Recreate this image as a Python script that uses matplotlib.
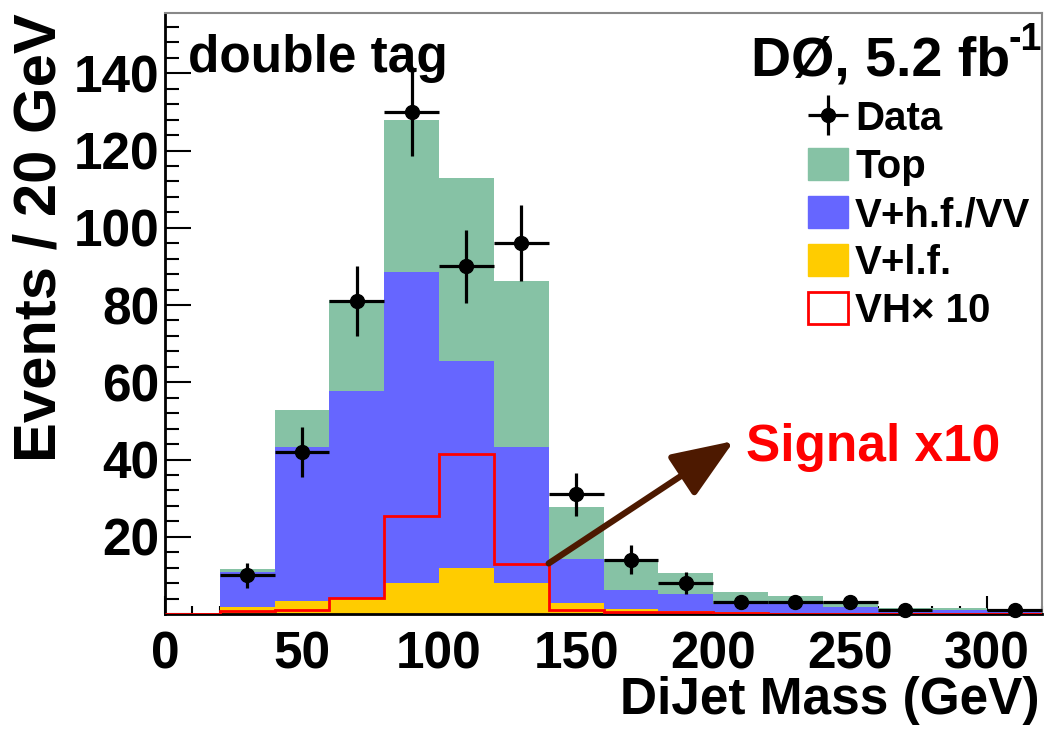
import numpy as np
import matplotlib
matplotlib.use("Agg")
import matplotlib.pyplot as plt
from matplotlib.patches import Patch, FancyArrowPatch
from matplotlib.ticker import MultipleLocator, FixedLocator, FuncFormatter

plt.rcParams["font.family"] = ["Liberation Sans", "DejaVu Sans"]
plt.rcParams["font.weight"] = "bold"
plt.rcParams["mathtext.default"] = "regular"

# 20 GeV bins from 0 to 320 GeV
bin_edges = np.arange(0, 321, 20)

# background components (events per bin)
vlf = [0, 1.8, 3.3, 4.1, 8.0, 11.8, 8.0, 2.8, 1.2, 0.8, 0.4, 0.3, 0.2, 0.1, 0.1, 0.1]
vhf_vv = [0, 9.0, 39.9, 53.7, 80.5, 53.7, 35.2, 11.5, 5.0, 4.4, 2.3, 2.2, 1.7, 0.8, 1.0, 0.5]
top = [0, 0.9, 9.7, 23.5, 39.3, 47.3, 43.0, 13.3, 8.0, 5.3, 3.1, 2.1, 1.2, 0.7, 0.4, 0.3]

# VH signal scaled by 10
signal_x10 = [0, 0.9, 1.0, 4.2, 25.5, 41.3, 13.0, 1.0, 0.6, 0.4, 0.2, 0.1, 0.1, 0.05, 0.05, 0.05]

# observed events (None = empty bin)
data = [None, 10, 42, 81, 130, 90, 96, 31, 14, 8, 3, 3, 3, 1, None, 1]

c_top = "#86c2a5"
c_vhf = "#6666ff"
c_vlf = "#ffcc00"

fig = plt.figure(figsize=(10.45, 7.29), dpi=100)
ax = fig.add_axes([165 / 1045, 1 - 614 / 729, (1042 - 165) / 1045, (614 - 13) / 729])

lvl1 = np.array(vlf)
lvl2 = lvl1 + np.array(vhf_vv)
lvl3 = lvl2 + np.array(top)

ax.stairs(lvl1, bin_edges, baseline=0, fill=True, color=c_vlf, lw=0, zorder=2)
ax.stairs(lvl2, bin_edges, baseline=lvl1, fill=True, color=c_vhf, lw=0, zorder=2)
ax.stairs(lvl3, bin_edges, baseline=lvl2, fill=True, color=c_top, lw=0, zorder=2)
ax.stairs(signal_x10, bin_edges, baseline=0, color="#ff0000", lw=2.0, zorder=3)

centers = 0.5 * (bin_edges[:-1] + bin_edges[1:])
xs = [c for c, d in zip(centers, data) if d is not None]
ys = [d for d in data if d is not None]
yerr = np.sqrt(ys)
eb = ax.errorbar(xs, ys, xerr=10, yerr=yerr, fmt="o", color="black",
                 ms=10, elinewidth=2.3, capsize=0, zorder=5, clip_on=False)

ax.set_xlim(0, 320)
ax.set_ylim(0, 155.6)

# axis styling
for side in ("left", "bottom"):
    ax.spines[side].set_linewidth(2.0)
    ax.spines[side].set_color("black")
for side in ("top", "right"):
    ax.spines[side].set_linewidth(1.5)
    ax.spines[side].set_color("#888888")

ax.xaxis.set_major_locator(MultipleLocator(50))
ax.xaxis.set_minor_locator(MultipleLocator(10))
ax.yaxis.set_major_locator(FixedLocator(np.arange(0, 141, 20)))
ax.yaxis.set_minor_locator(MultipleLocator(4))
ax.yaxis.set_major_formatter(FuncFormatter(lambda v, p: "" if v == 0 else f"{v:.0f}"))

ax.tick_params(axis="both", which="both", direction="in", top=False, right=False,
               color="black", width=1.5)
ax.tick_params(axis="x", which="major", length=13, labelsize=37, pad=12)
ax.tick_params(axis="x", which="minor", length=6)
ax.tick_params(axis="y", which="major", length=19, labelsize=37, pad=4)
ax.tick_params(axis="y", which="minor", length=10)
for lab in ax.get_xticklabels() + ax.get_yticklabels():
    lab.set_fontweight("bold")

fig.text(40 / 1045, 1 - 13 / 729, "Events / 20 GeV", rotation=90, ha="center",
         va="top", fontsize=43, fontweight="bold")
fig.text(1040 / 1045, 1 - 714 / 729, "DiJet Mass (GeV)", ha="right",
         va="baseline", fontsize=37, fontweight="bold")

fig.text(188 / 1045, 1 - 72 / 729, "double tag", ha="left", va="baseline",
         fontsize=37, fontweight="bold")
fig.text(751 / 1045, 1 - 76 / 729, "DØ, 5.2 fb", ha="left", va="baseline",
         fontsize=40, fontweight="bold")
fig.text(1009 / 1045, 1 - 50 / 729, "-1", ha="left", va="baseline",
         fontsize=27, fontweight="bold")

# legend
handles = [eb,
           Patch(facecolor=c_top, edgecolor=c_top),
           Patch(facecolor=c_vhf, edgecolor=c_vhf),
           Patch(facecolor=c_vlf, edgecolor=c_vlf),
           Patch(facecolor="white", edgecolor="#ff0000", lw=2)]
labels = ["Data", "Top", "V+h.f./VV", "V+l.f.", "VH× 10"]
leg = fig.legend(handles, labels, loc="upper left",
                 bbox_to_anchor=(808 / 1045, 1 - 100 / 729),
                 frameon=False, handlelength=1.0, handleheight=0.85,
                 handletextpad=0.17, labelspacing=0.25, borderpad=0, borderaxespad=0,
                 prop={"weight": "bold", "size": 29})

# arrow pointing to the signal label
arr = FancyArrowPatch((140, 13.1), (207.6, 44.8),
                      arrowstyle="-|>,head_length=38,head_width=15",
                      mutation_scale=1, color="#4d1900", lw=4.5,
                      shrinkA=0, shrinkB=0, zorder=6)
ax.add_patch(arr)
ax.text(212, 43, "Signal x10", color="#ff0000", fontsize=37, fontweight="bold",
        ha="left", va="center", zorder=6)

fig.savefig("out.png", dpi=100)
